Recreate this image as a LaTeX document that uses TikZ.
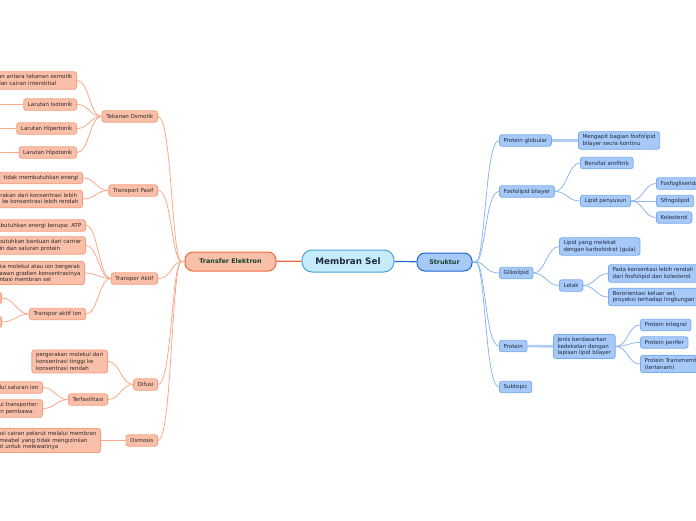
\documentclass[tikz,border=0pt]{standalone}
\usepackage{fontspec}
\setmainfont{DejaVu Sans}
\usepackage{tikz}
\usetikzlibrary{positioning,backgrounds}
\definecolor{redfill}{HTML}{F9BFA9}
\definecolor{redline}{HTML}{F4A080}
\definecolor{redconn}{HTML}{F8A88B}
\definecolor{redtext}{HTML}{2F2A28}
\definecolor{redmain}{HTML}{F0683F}
\definecolor{greentext}{HTML}{16432C}
\definecolor{bluefill}{HTML}{A7C9F7}
\definecolor{blueline}{HTML}{78ACEC}
\definecolor{blueconn}{HTML}{8DB7EE}
\definecolor{bluetext}{HTML}{1E2A42}
\definecolor{bluemain}{HTML}{1F67D1}
\definecolor{selfill}{HTML}{C6EBFB}
\definecolor{selline}{HTML}{4BA3DC}
\tikzset{
  % small topic boxes
  topicbase/.style={rounded corners=2.5pt, line width=0.8pt, align=left,
    inner xsep=4.2pt, inner ysep=2.8pt, minimum height=11.5pt,
    font=\fontsize{5.5}{6.6}\selectfont},
  boxred/.style={topicbase, draw=redline, fill=redfill, text=redtext},
  boxblue/.style={topicbase, draw=blueline, fill=bluefill, text=bluetext},
  % main topics
  mainbox/.style={rounded corners=8pt, line width=1pt, align=center,
    font=\fontsize{6.4}{7.5}\selectfont\bfseries, text=greentext},
  % connectors
  lnred/.style={line width=0.8pt, redconn},
  lnblue/.style={line width=0.8pt, blueconn},
  thickblue/.style={line width=2.6pt, blueconn!70},
}
\begin{document}
\begin{tikzpicture}[x=1pt, y=-1pt]
  \useasboundingbox (0,0) rectangle (696,520);
  \clip (0,0) rectangle (696,520);
  % centre
  \node[mainbox, draw=selline, fill=selfill, minimum width=92pt, minimum height=22pt,
    rounded corners=10pt, font=\fontsize{8.8}{10}\selectfont\bfseries, text=bluetext]
    (sel) at (348,261) {Membran Sel};
  \node[mainbox, draw=redmain, fill=redfill, minimum width=91pt, minimum height=19pt]
    (te) at (230.5,261.5) {Transfer Elektron};
  \node[mainbox, draw=bluemain, fill=bluefill, minimum width=55pt, minimum height=18pt]
    (str) at (444.5,262) {Struktur};
  % left branch
  \node[boxred, anchor=east] (tos) at (158,116.5) {Tekanan Osmotik};
  \node[boxred, anchor=east] (tps) at (158,190.5) {Transport Pasif};
  \node[boxred, anchor=east] (tak) at (158,278.5) {Transpor Aktif};
  \node[boxred, anchor=east] (dif) at (158,384.5) {Difusi};
  \node[boxred, anchor=east] (osm) at (158,440.5) {Osmosis};
  \node[boxred, anchor=east] (tosA) at (77,80.5) {Perbedaan antara tekanan osmotik\\plasma dan cairan interstitial};
  \node[boxred, anchor=east] (tosB) at (77,104.5) {Larutan Isotonik};
  \node[boxred, anchor=east] (tosC) at (77,128.5) {Larutan Hipertonik};
  \node[boxred, anchor=east] (tosD) at (77,152.5) {Larutan Hipotonik};
  \node[boxred, anchor=east] (tpsA) at (83,178) {tidak membutuhkan energi};
  \node[boxred, anchor=east] (tpsB) at (83,199) {Pergerakan dari konsentrasi lebih\\tinggi ke konsentrasi lebih rendah};
  \node[boxred, anchor=east] (takA) at (86,225.5) {Membutuhkan energi berupa: ATP};
  \node[boxred, anchor=east] (takB) at (86,245.5) {Membutuhkan bantuan dari carrier\\protein dan saluran protein};
  \node[boxred, anchor=east] (takC) at (85,273) {Ketika molekul atau ion bergerak\\melawan gradien konsentrasinya\\orientasi membran sel};
  \node[boxred, anchor=east] (takD) at (86,314) {Transpor aktif Ion};
  \node[boxred, anchor=east, minimum width=30pt] (ionA) at (2,298) {};
  \node[boxred, anchor=east, minimum width=30pt] (ionB) at (2,322) {};
  \node[boxred, anchor=east] (difA) at (108,361.5) {pergerakan molekul dari\\konsentrasi tinggi ke\\konsentrasi rendah};
  \node[boxred, anchor=east] (difB) at (108,399.5) {Terfasilitasi};
  \node[boxred, anchor=east] (terA) at (43,387.5) {Melalui saluran ion};
  \node[boxred, anchor=east] (terB) at (43,408.5) {Melalui transporter:\\protein pembawa.};
  \node[boxred, anchor=east] (osmA) at (101,440.5) {Difusi cairan pelarut melalui membran\\permeabel yang tidak mengizinkan\\solut untuk melewatinya};
  % right branch
  \node[boxblue, anchor=west] (pgl) at (499,140.5) {Protein globular};
  \node[boxblue, anchor=west] (fos) at (499,191.5) {Fosfolipid bilayer};
  \node[boxblue, anchor=west] (gli) at (499,273) {Glikolipid};
  \node[boxblue, anchor=west] (pro) at (499,346) {Protein};
  \node[boxblue, anchor=west] (sub) at (499,387) {Subtopic};
  \node[boxblue, anchor=west] (pglA) at (578,140.5) {Mengapit bagian fosfolipid\\bilayer secra kontinu};
  \node[boxblue, anchor=west] (fosA) at (580,163) {Bersifat amfitrik};
  \node[boxblue, anchor=west] (fosB) at (580,201) {Lipid penyusun};
  \node[boxblue, anchor=west] (lipA) at (656,183.5) {Fosfogliserida};
  \node[boxblue, anchor=west] (lipB) at (656,201) {Sfingolipid};
  \node[boxblue, anchor=west] (lipC) at (656,217.5) {Kolesterol};
  \node[boxblue, anchor=west] (gliA) at (559,246.5) {Lipid yang melekat\\dengan karbohidrat (gula)};
  \node[boxblue, anchor=west] (gliB) at (559,285.5) {Letak};
  \node[boxblue, anchor=west] (letA) at (608,273.5) {Pada konsentasi lebih rendah\\dari fosfolipid dan kolesterol};
  \node[boxblue, anchor=west] (letB) at (608,297) {Berorientasi keluar sel,\\proyeksi terhadap lingkungan};
  \node[boxblue, anchor=west] (proA) at (553,346.5) {Jenis berdasarkan\\kedekatan dengan\\lapisan lipid bilayer};
  \node[boxblue, anchor=west] (jenA) at (640,325) {Protein integral};
  \node[boxblue, anchor=west] (jenB) at (640,342.5) {Protein perifer};
  \node[boxblue, anchor=west] (jenC) at (640,364) {Protein Transmembran\\(tertanam)};
  % connectors
  \begin{scope}[on background layer]
    \draw[line width=1.2pt, redmain] (sel) -- (te);
    \draw[line width=1.2pt, bluemain] (sel) -- (str);
    \foreach \c in {tos,tps,tak,dif,osm}
      \draw[lnred] (te.west) -- ++(-3,0) .. controls +(-10,0) and +(14,0) .. (\c.east);
    \foreach \p/\c in {tos/tosA,tos/tosB,tos/tosC,tos/tosD,tps/tpsA,tps/tpsB,
        tak/takA,tak/takB,tak/takC,tak/takD,takD/ionA,takD/ionB,
        dif/difA,dif/difB,difB/terA,difB/terB,osm/osmA}
      \draw[lnred] (\p.west) .. controls +(-12,0) and +(12,0) .. (\c.east);
    \foreach \c in {tosB,tosC,tosD}
      \draw[lnred] (\c.west) -- ++(-40,0);
    \foreach \c in {pgl,fos,gli,pro,sub}
      \draw[lnblue] (str.east) -- ++(3,0) .. controls +(10,0) and +(-14,0) .. (\c.west);
    \foreach \p/\c in {fos/fosA,fos/fosB,fosB/lipA,fosB/lipB,fosB/lipC,
        gli/gliA,gli/gliB,gliB/letA,gliB/letB,proA/jenA,proA/jenB,proA/jenC}
      \draw[lnblue] (\p.east) .. controls +(12,0) and +(-12,0) .. (\c.west);
    \draw[thickblue] (pgl) -- (pglA);
    \draw[thickblue] (pro) -- (proA);
  \end{scope}
\end{tikzpicture}
\end{document}
